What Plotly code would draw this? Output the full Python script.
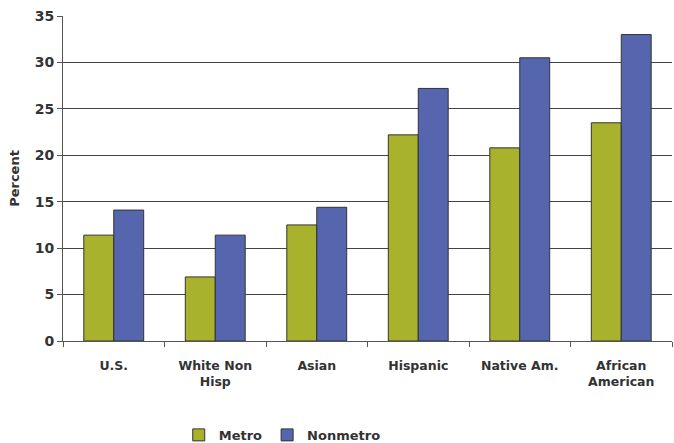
import plotly.graph_objects as go

categories = ["U.S.", "White Non<br>Hisp", "Asian", "Hispanic", "Native Am.", "African<br>American"]
metro = [11.4, 6.9, 12.5, 22.2, 20.8, 23.5]
nonmetro = [14.1, 11.4, 14.4, 27.2, 30.5, 33.0]
y_ticks = [0, 5, 10, 15, 20, 25, 30, 35]

font_family = "DejaVu Sans"

fig = go.Figure()
fig.add_trace(go.Bar(name="Metro", x=categories, y=metro,
                     marker=dict(color="#A9B22C", line=dict(color="#333333", width=1))))
fig.add_trace(go.Bar(name="Nonmetro", x=categories, y=nonmetro,
                     marker=dict(color="#5566AE", line=dict(color="#333333", width=1))))

fig.update_layout(
    width=674, height=443,
    margin=dict(l=63, r=2, t=16, b=102, autoexpand=False),
    paper_bgcolor="white", plot_bgcolor="white",
    barmode="group", bargap=0.41, bargroupgap=0,
    font=dict(family=font_family, color="#333333"),
    showlegend=True,
    legend=dict(orientation="h", x=0.36, xanchor="center", y=-0.289, yanchor="middle",
                font=dict(size=13, family=font_family, color="#333333", weight="bold"),
                itemwidth=30, traceorder="normal"),
    xaxis=dict(
        showline=True, linecolor="#555555", linewidth=1,
        ticks="outside", tickson="boundaries", ticklen=5, tickcolor="#555555",
        ticklabelstandoff=13, automargin=False,
        tickfont=dict(size=12.5, family=font_family, color="#333333", weight="bold"),
        showgrid=False,
    ),
    yaxis=dict(
        range=[0, 35], tickvals=y_ticks, automargin=False,
        showline=True, linecolor="#555555", linewidth=1,
        ticks="outside", ticklen=5, tickcolor="#555555",
        showgrid=True, gridcolor="#444444", gridwidth=1,
        tickfont=dict(size=14, family=font_family, color="#333333", weight="bold"),
        title=dict(text="Percent", font=dict(size=13, family=font_family, color="#333333", weight="bold"), standoff=12),
        zeroline=False,
    ),
)

fig.write_html("out.html")
